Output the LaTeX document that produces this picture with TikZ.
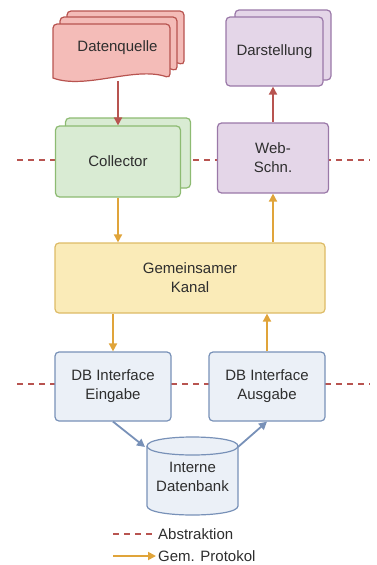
\documentclass[tikz,border=0pt]{standalone}
\usepackage{fontspec}
\setmainfont{Liberation Sans}
\usetikzlibrary{arrows.meta}
\definecolor{redfill}{HTML}{F4BCB8}
\definecolor{redline}{HTML}{B85450}
\definecolor{greenfill}{HTML}{D9EBD3}
\definecolor{greenline}{HTML}{8DBB72}
\definecolor{purpfill}{HTML}{E4D6E8}
\definecolor{purpline}{HTML}{9A78A8}
\definecolor{yelfill}{HTML}{FAEBB8}
\definecolor{yelline}{HTML}{DDBB66}
\definecolor{bluefill}{HTML}{EBF0F7}
\definecolor{blueline}{HTML}{7891B8}
\definecolor{orangeline}{HTML}{E0A43A}
\definecolor{txt}{HTML}{2E2E2E}
\tikzset{
  box/.style={draw, line width=1.2pt, rounded corners=4pt, inner sep=0pt, align=center, text=txt, font=\fontsize{15}{19}\selectfont},
  gbox/.style={box, draw=greenline, fill=greenfill},
  pbox/.style={box, draw=purpline, fill=purpfill},
  ybox/.style={box, draw=yelline, fill=yelfill},
  bbox/.style={box, draw=blueline, fill=bluefill},
  rpage/.style={draw=redline, fill=redfill, line width=1.2pt, rounded corners=4pt},
  cyl/.style={draw=blueline, fill=bluefill, line width=1.2pt},
  lbl/.style={text=txt, font=\fontsize{15}{19}\selectfont, align=center, inner sep=0pt},
  abstr/.style={draw=redline, line width=1.1pt, dash pattern=on 6pt off 5pt},
  redarr/.style={draw=redline, line width=1.8pt, -{Triangle[length=8pt,width=8pt]}},
  orarr/.style={draw=orangeline, line width=1.8pt, -{Triangle[length=8pt,width=8pt]}},
  bluarr/.style={draw=blueline, line width=1.8pt, -{Triangle[length=8pt,width=8pt]}},
}
\begin{document}
\begin{tikzpicture}[x=1pt,y=-1pt]
\useasboundingbox (0,0) rectangle (376,565);
% abstraction lines (behind)
\coordinate (a1l) at (17,160); \coordinate (a1r) at (370,160);
\coordinate (a2l) at (17,384); \coordinate (a2r) at (370,384);
\draw[abstr] (a1l) -- (a1r);
\draw[abstr] (a2l) -- (a2r);
% Datenquelle multi-document
\foreach \d/\e in {14/13,7/7,0/0}{
  \path[rpage] (53+\d,78-\e) -- (53+\d,24-\e) -- (170+\d,24-\e) -- (170+\d,78-\e)
    [sharp corners] .. controls (135+\d,66-\e) and (85+\d,90-\e) .. (53+\d,78-\e) -- cycle;
}
\node[lbl] (dq) at (117.5,48) {Datenquelle};
\coordinate (dqb) at (118,81);
% Collector
\node[gbox, minimum width=125pt, minimum height=70pt] (colb) at (128,153) {};
\node[gbox, minimum width=125pt, minimum height=71pt] (col) at (118,161.5) {Collector};
% Darstellung
\node[pbox, minimum width=96pt, minimum height=70pt] (darb) at (283,45) {};
\node[pbox, minimum width=97pt, minimum height=69pt] (dar) at (274.5,51.5) {Darstellung};
% Web-Schn.
\node[pbox, minimum width=111pt, minimum height=70pt] (web) at (273,158) {Web-\\Schn.};
% Kanal
\node[ybox, minimum width=270pt, minimum height=70pt] (kan) at (190,278) {Gemeinsamer\\Kanal};
% DB interfaces
\node[bbox, minimum width=116pt, minimum height=69pt] (ein) at (113,386.5) {DB Interface\\Eingabe};
\node[bbox, minimum width=116pt, minimum height=69pt] (aus) at (267,386.5) {DB Interface\\Ausgabe};
% Datenbank (cylinder drawn by hand)
\path[cyl] (147,446) -- (147,506) .. controls (147,518) and (238,518) .. (238,506)
  -- (238,446) .. controls (238,434) and (147,434) .. (147,446) -- cycle;
\draw[cyl, fill=none] (147,446) .. controls (147,458) and (238,458) .. (238,446);
\node[lbl] (db) at (192.5,477) {Interne\\Datenbank};
\coordinate (dbl) at (145,447);
\coordinate (dbr) at (238,447);
% arrows
\draw[redarr] (dqb) -- (col.north);
\draw[redarr] (web.north) -- (web.north |- dar.south);
\draw[orarr] (col.south) -- (col.south |- kan.north);
\draw[orarr] (kan.north -| web.south) -- (web.south);
\draw[orarr] (kan.south -| ein.north) -- (ein.north);
\draw[orarr] (aus.north) -- (aus.north |- kan.south);
\draw[bluarr] (ein.south) -- (dbl);
\draw[bluarr] (dbr) -- (aus.south);
% legend
\coordinate (l1a) at (113,534); \coordinate (l1b) at (153,534);
\coordinate (l2a) at (113,556); \coordinate (l2b) at (156,556);
\draw[abstr] (l1a) -- (l1b);
\node[lbl, anchor=west] (lt1) at (158,534) {Abstraktion};
\draw[orarr] (l2a) -- (l2b);
\node[lbl, anchor=west] (lt2) at (158,556) {Gem. Protokol};
\end{tikzpicture}
\end{document}
